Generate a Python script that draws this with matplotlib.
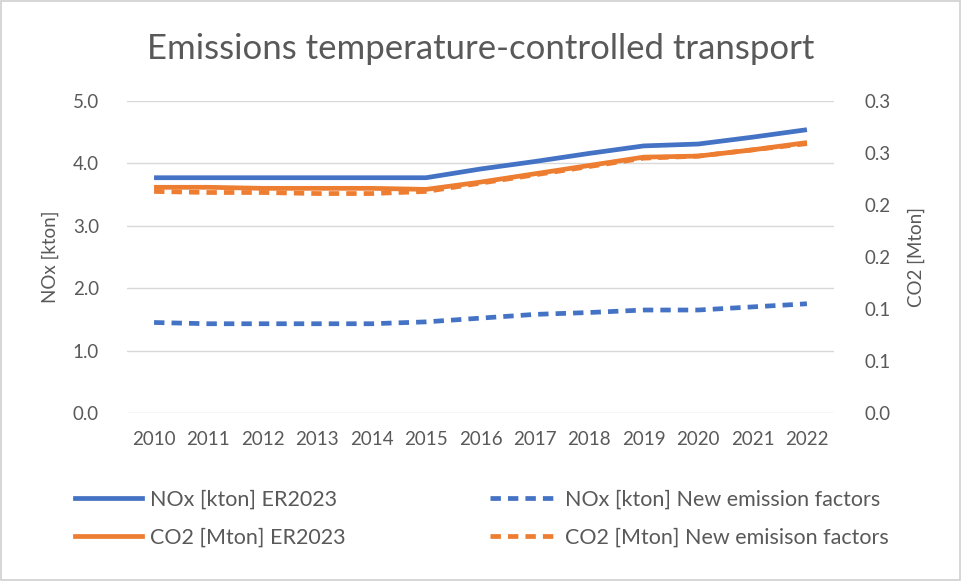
import matplotlib
matplotlib.use("Agg")
import matplotlib.pyplot as plt
from matplotlib.lines import Line2D
from matplotlib.patches import Rectangle

years = ["2010", "2011", "2012", "2013", "2014", "2015", "2016",
         "2017", "2018", "2019", "2020", "2021", "2022"]
nox_er2023 = [3.77, 3.77, 3.77, 3.77, 3.77, 3.77, 3.91, 4.03, 4.16, 4.28, 4.31, 4.42, 4.54]
nox_new = [1.45, 1.43, 1.43, 1.43, 1.43, 1.46, 1.52, 1.58, 1.61, 1.65, 1.65, 1.70, 1.75]
co2_er2023 = [0.217, 0.217, 0.216, 0.216, 0.216, 0.215, 0.222, 0.230, 0.238, 0.246, 0.247, 0.253, 0.260]
co2_new = [0.213, 0.212, 0.212, 0.211, 0.211, 0.213, 0.221, 0.229, 0.237, 0.245, 0.247, 0.253, 0.259]

left_ticks = [0.0, 1.0, 2.0, 3.0, 4.0, 5.0]
left_tick_labels = ["0.0", "1.0", "2.0", "3.0", "4.0", "5.0"]
right_ticks = [0.0, 0.05, 0.10, 0.15, 0.20, 0.25, 0.30]
right_tick_labels = ["0.0", "0.1", "0.1", "0.2", "0.2", "0.3", "0.3"]

title = "Emissions temperature-controlled transport"
left_label = "NOx [kton]"
right_label = "CO2 [Mton]"
labels = ["NOx [kton] ER2023", "CO2 [Mton] ER2023",
          "NOx [kton] New emission factors", "CO2 [Mton] New emisison factors"]

BLUE = "#4472C4"
ORANGE = "#ED7D31"
TXT = "#595959"
GRID = "#D9D9D9"
FONT = ["Lato", "DejaVu Sans"]

plt.rcParams["font.family"] = FONT

fig = plt.figure(figsize=(9.61, 5.81), dpi=100)
fig.patches.append(Rectangle((0.001, 0.001), 0.998, 0.997, transform=fig.transFigure,
                             fill=False, edgecolor="#D0D0D0", linewidth=1.2))

ax = fig.add_axes([0.132, 0.2892, 0.736, 0.537])
ax2 = ax.twinx()

x = list(range(len(years)))
lw = 3.4
dash = (0, (2.2, 1.5))

ax.plot(x, nox_er2023, color=BLUE, lw=lw, solid_capstyle="butt")
ax.plot(x, nox_new, color=BLUE, lw=lw, linestyle=dash)
ax2.plot(x, co2_er2023, color=ORANGE, lw=lw, solid_capstyle="butt")
ax2.plot(x, co2_new, color=ORANGE, lw=lw, linestyle=dash)

ax.set_xlim(-0.5, len(years) - 0.5)
ax.set_ylim(0, 5)
ax2.set_ylim(0, 0.3)
ax.set_xticks(x, years)
ax.set_yticks(left_ticks, left_tick_labels)
ax2.set_yticks(right_ticks, right_tick_labels)

ax.grid(axis="y", color=GRID, lw=1)
ax.set_axisbelow(True)
for a in (ax, ax2):
    for s in a.spines.values():
        s.set_visible(False)
    a.tick_params(length=0, colors=TXT, labelsize=13.5)
ax.tick_params(axis="y", pad=20)
ax2.tick_params(axis="y", pad=22)
ax.tick_params(axis="x", pad=13)

ax.set_ylabel(left_label, color=TXT, fontsize=13.5, labelpad=10)
ax2.set_ylabel(right_label, color=TXT, fontsize=13.5, rotation=90, labelpad=12)

fig.text(0.5, 0.915, title, ha="center", va="center", color=TXT, fontsize=25)

h = [Line2D([], [], color=BLUE, lw=lw),
     Line2D([], [], color=ORANGE, lw=lw),
     Line2D([], [], color=BLUE, lw=lw, linestyle=dash),
     Line2D([], [], color=ORANGE, lw=lw, linestyle=dash)]
kw = dict(frameon=False, fontsize=15.5, labelcolor=TXT, handlelength=3.1,
          handletextpad=0.4, labelspacing=0.85, borderaxespad=0, borderpad=0)
fig.legend(h[:2], labels[:2], loc="upper left", bbox_to_anchor=(0.078, 0.158), **kw)
fig.legend(h[2:], labels[2:], loc="upper left", bbox_to_anchor=(0.51, 0.158), **kw)

fig.savefig("out.png", dpi=100)
